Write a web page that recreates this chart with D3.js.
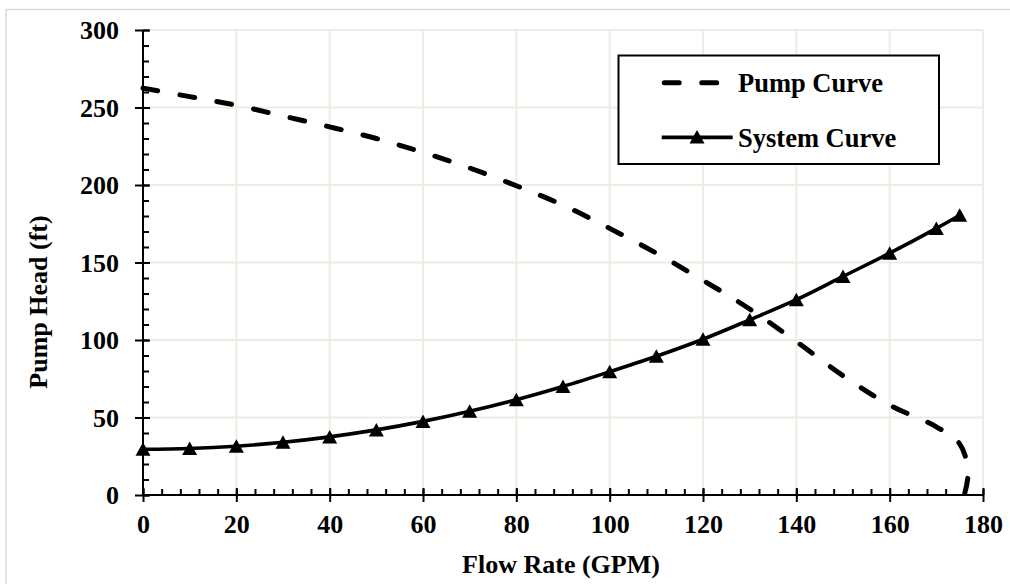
<!DOCTYPE html>
<meta charset="utf-8">
<style>
body { margin: 0; background: #fff; }
text {
  font-family: "Liberation Serif", "Times New Roman", serif;
  font-weight: bold;
  fill: #000;
}
.grid line {
  stroke: #efece3;
  stroke-width: 2px;
}
.axis line, .axis path {
  stroke: #000;
  stroke-width: 2px;
  fill: none;
}
</style>
<svg width="1010" height="584"></svg>
<script src="https://d3js.org/d3.v7.min.js"></script>
<script>
// system curve (triangles)
var systemFlow = [0, 10, 20, 30, 40, 50, 60, 70, 80, 90, 100, 110, 120, 130, 140, 150, 160, 170, 175];
var systemHead = [29.5, 30, 31.5, 34, 37.5, 42, 47.5, 54, 61.5, 70, 79.5, 89.5, 100.5, 113, 126, 141, 156, 172, 180.5];

// pump curve (dashed)
var pumpFlow = [0, 10, 20, 30, 40, 50, 60, 70, 80, 90, 100, 110, 120, 130, 140, 150, 160, 170, 175, 176.8, 176];
var pumpHead = [262.5, 257, 251.5, 244.5, 237.5, 230, 221, 211, 199.5, 187, 172, 156, 138.5, 120, 99, 77, 58, 44, 33, 15, 0];

var xTicks = [0, 20, 40, 60, 80, 100, 120, 140, 160, 180];
var yTicks = [0, 50, 100, 150, 200, 250, 300];
var legendLabels = ["Pump Curve", "System Curve"];

var svg = d3.select("svg"),
    plotLeft = 143,
    plotRight = 983,
    plotTop = 30,
    plotBottom = 495;

var x = d3.scaleLinear().domain([0, 180]).range([plotLeft, plotRight]);
var y = d3.scaleLinear().domain([0, 300]).range([plotBottom, plotTop]);

// outer frame
svg.append("rect")
    .attr("x", 6).attr("y", 9.5)
    .attr("width", 1100).attr("height", 700)
    .attr("fill", "none")
    .attr("stroke", "#d9d9d9")
    .attr("stroke-width", 1.5);

// grid
var grid = svg.append("g").attr("class", "grid");
grid.selectAll("line.v")
    .data(xTicks.slice(1))
    .enter().append("line")
      .attr("class", "v")
      .attr("x1", function(d) { return x(d); })
      .attr("x2", function(d) { return x(d); })
      .attr("y1", plotTop).attr("y2", plotBottom);
grid.selectAll("line.h")
    .data(yTicks.slice(1))
    .enter().append("line")
      .attr("class", "h")
      .attr("y1", function(d) { return y(d); })
      .attr("y2", function(d) { return y(d); })
      .attr("x1", plotLeft).attr("x2", plotRight);

// minor ticks (inside only), then major ticks crossing the axis
var xAxis = svg.append("g").attr("class", "axis").attr("transform", "translate(0," + plotBottom + ")");
xAxis.call(d3.axisBottom(x).tickValues(d3.range(0, 181, 4)).tickSize(0).tickSizeInner(-6).tickFormat(""));
xAxis.select(".domain").remove();
xAxis.append("g")
    .call(d3.axisBottom(x).tickValues(xTicks).tickSizeInner(7).tickSizeOuter(0).tickPadding(12))
    .call(function(g) {
      g.selectAll(".tick line").attr("y1", -7);
      g.selectAll(".tick text").attr("font-size", 26).attr("dy", "0.72em");
      g.select(".domain").attr("d", "M" + plotLeft + ",0H" + plotRight);
    });

var yAxis = svg.append("g").attr("class", "axis").attr("transform", "translate(" + plotLeft + ",0)");
yAxis.call(d3.axisLeft(y).tickValues(d3.range(0, 301, 10)).tickSize(0).tickSizeInner(-6).tickFormat(""));
yAxis.select(".domain").remove();
yAxis.append("g")
    .call(d3.axisLeft(y).tickValues(yTicks).tickSizeInner(8).tickSizeOuter(0).tickPadding(16))
    .call(function(g) {
      g.selectAll(".tick line").attr("x1", 7);
      g.selectAll(".tick text").attr("font-size", 26).attr("dy", "0.34em");
      g.select(".domain").attr("d", "M0," + plotTop + "V" + plotBottom);
    });

// axis titles
svg.append("text")
    .attr("x", (plotLeft + plotRight) / 2 - 2)
    .attr("y", 573)
    .attr("text-anchor", "middle")
    .attr("font-size", 26)
    .text("Flow Rate (GPM)");

svg.append("text")
    .attr("transform", "translate(47,302) rotate(-90)")
    .attr("text-anchor", "middle")
    .attr("font-size", 26)
    .text("Pump Head (ft)");

// curves
var curveLine = d3.line()
    .x(function(d) { return x(d[0]); })
    .y(function(d) { return y(d[1]); })
    .curve(d3.curveCatmullRom.alpha(0.5));

var pumpData = d3.zip(pumpFlow, pumpHead);
var systemData = d3.zip(systemFlow, systemHead);

svg.append("path")
    .datum(pumpData)
    .attr("d", curveLine)
    .attr("fill", "none")
    .attr("stroke", "#000")
    .attr("stroke-width", 5)
    .attr("stroke-linecap", "round")
    .attr("stroke-dasharray", "15,22.5");

svg.append("path")
    .datum(systemData)
    .attr("d", curveLine)
    .attr("fill", "none")
    .attr("stroke", "#000")
    .attr("stroke-width", 3.6);

var triangle = { draw: function(ctx) {
  ctx.moveTo(0, -7);
  ctx.lineTo(7.5, 6.5);
  ctx.lineTo(-7.5, 6.5);
  ctx.closePath();
} };

svg.append("g")
  .selectAll("path")
  .data(systemData)
  .enter().append("path")
    .attr("d", d3.symbol(triangle))
    .attr("transform", function(d) { return "translate(" + x(d[0]) + "," + y(d[1]) + ")"; })
    .attr("fill", "#000");

// legend
var legend = svg.append("g");
legend.append("rect")
    .attr("x", 618.5).attr("y", 55.5)
    .attr("width", 320.5).attr("height", 108.5)
    .attr("fill", "#fff")
    .attr("stroke", "#000")
    .attr("stroke-width", 2);

legend.append("line")
    .attr("x1", 664.2).attr("x2", 717)
    .attr("y1", 82.7).attr("y2", 82.7)
    .attr("stroke", "#000")
    .attr("stroke-width", 5)
    .attr("stroke-linecap", "round")
    .attr("stroke-dasharray", "15,22.5");

legend.append("line")
    .attr("x1", 661.7).attr("x2", 732.7)
    .attr("y1", 137.3).attr("y2", 137.3)
    .attr("stroke", "#000")
    .attr("stroke-width", 3.7);

legend.append("path")
    .attr("d", d3.symbol(triangle))
    .attr("transform", "translate(697,137)")
    .attr("fill", "#000");

legend.selectAll("text")
    .data(legendLabels)
    .enter().append("text")
      .attr("x", 738)
      .attr("y", function(d, i) { return i ? 146.7 : 92.3; })
      .attr("font-size", 26.5)
      .text(function(d) { return d; });
</script>
